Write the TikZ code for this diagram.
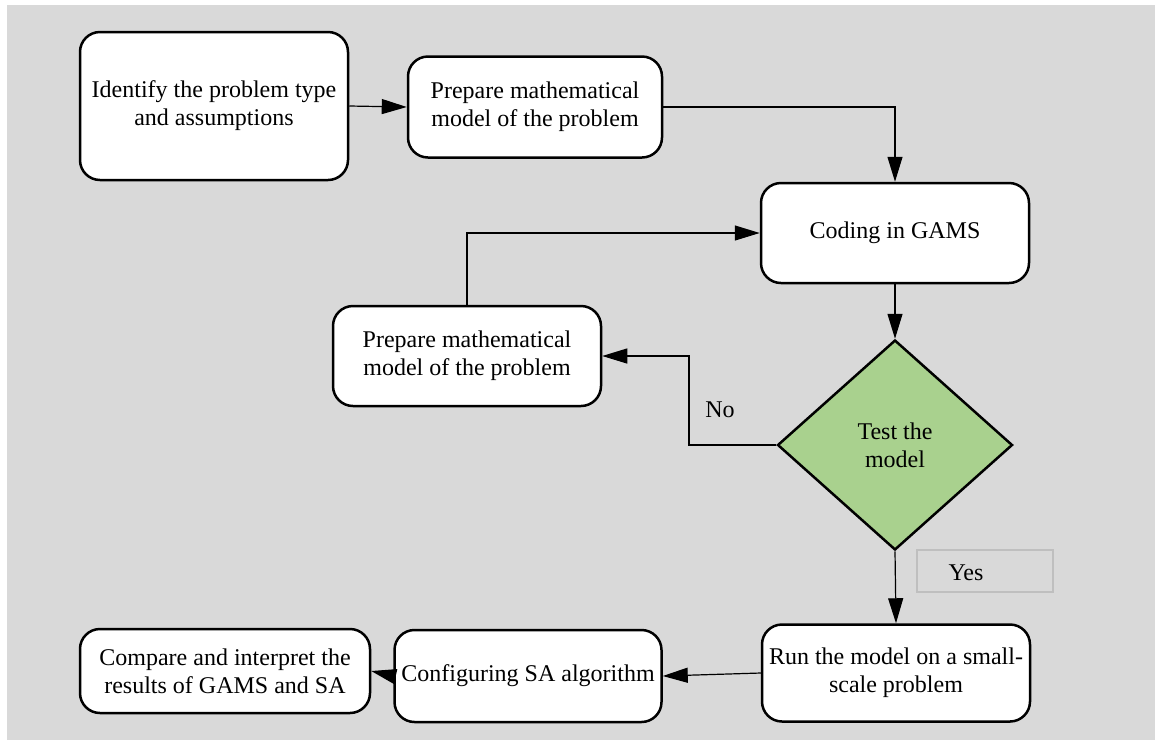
\documentclass[tikz,border=0pt]{standalone}
\usepackage{fontspec}
\setmainfont{Liberation Serif}
\usetikzlibrary{arrows.meta,shapes.geometric}
\definecolor{bgc}{HTML}{D9D9D9}
\definecolor{testgreen}{HTML}{A9D18E}
\definecolor{yesline}{HTML}{BFBFBF}
\begin{document}
\begin{tikzpicture}[x=1pt,y=-1pt,
  box/.style={draw=black, line width=2.5pt, fill=white, rounded corners=20pt,
    align=center, font=\fontsize{24}{28}\selectfont, inner sep=0pt},
  decision/.style={diamond, draw=black, line width=2.5pt, fill=testgreen,
    align=center, font=\fontsize{24}{28}\selectfont, inner sep=0pt,
    minimum width=235pt, minimum height=210pt},
  conn/.style={line width=1.2pt, -{Triangle[length=25pt,width=15pt]}},
  lbl/.style={font=\fontsize{24}{28}\selectfont, inner sep=0pt}]
\useasboundingbox (0,0) rectangle (1155,740);
\fill[bgc] (7,5) rectangle (1155,740);

\node[box, minimum width=268pt, minimum height=148pt] (ident) at (214,106)
  {Identify the problem type\\and assumptions};
\node[box, minimum width=254pt, minimum height=101pt] (prep1) at (535,107)
  {Prepare mathematical\\model of the problem};
\node[box, minimum width=268pt, minimum height=100pt] (code) at (895,233)
  {Coding in GAMS};
\node[decision] (test) at (895,445) {Test the\\model};
\node[box, minimum width=268pt, minimum height=100pt] (prep2) at (467,356)
  {Prepare mathematical\\model of the problem};
\node[box, minimum width=268pt, minimum height=97pt] (run) at (896,673)
  {Run the model on a small-\\scale problem};
\node[box, minimum width=267pt, minimum height=92pt] (config) at (528,676)
  {Configuring SA algorithm};
\node[box, minimum width=290pt, minimum height=84pt] (compare) at (225,671)
  {Compare and interpret the\\results of GAMS and SA};

\node[draw=yesline, line width=1.5pt, minimum width=136pt, minimum height=42pt,
  inner sep=0pt] (yesbox) at (985,571) {};
\node[lbl] (yes) at (966,573) {Yes};
\node[lbl] (no) at (720,410) {No};

\coordinate (nobend) at (689,445);

\draw[conn] (ident.east) -- (prep1.west);
\draw[conn] (prep1.east) -| (code.north);
\draw[conn] (code.south) -- (test.north);
\draw[conn] (test.west) -- (nobend) |- (prep2.east);
\draw[conn] (prep2.north) |- (code.west);
\draw[conn] (test.south) -- (run.north);
\draw[conn] (run.west) -- (config.east);
\draw[conn] (config.west) -- (compare.east);
\end{tikzpicture}
\end{document}
